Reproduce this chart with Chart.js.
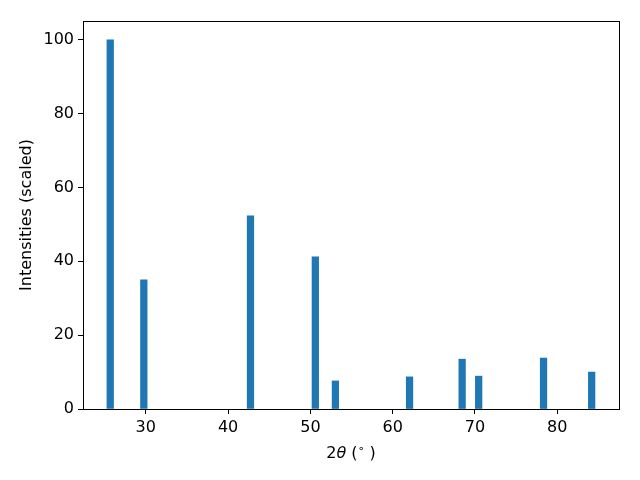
<!DOCTYPE html>
<html>
<head>
<meta charset="utf-8">
<script src="https://cdn.jsdelivr.net/npm/chart.js@4"></script>
<style>
  html, body { margin: 0; padding: 0; background: #fff; }
  #wrap { width: 640px; height: 480px; }
</style>
</head>
<body>
<div id="wrap"><canvas id="xrd" width="640" height="480"></canvas></div>
<script>
// peak positions (2theta, degrees) and scaled intensities
const twoTheta = [25.68, 29.76, 42.72, 50.6, 53.04, 62.05, 68.44, 70.45, 78.33, 84.18];
const intensity = [100, 35, 52.3, 41.2, 7.6, 8.7, 13.5, 8.9, 13.8, 10.0];
const xTicks = [30, 40, 50, 60, 70, 80];
const yTicks = [0, 20, 40, 60, 80, 100];

const tickFont = { family: 'DejaVu Sans', size: 16 };

// draws the top and right spines (matplotlib box)
const boxPlugin = {
    id: 'box',
    afterDraw: function (chart) {
        const a = chart.chartArea;
        const c = chart.ctx;
        c.save();
        c.strokeStyle = '#000';
        c.lineWidth = 1;
        c.strokeRect(Math.round(a.left) + 0.5, Math.round(a.top) + 0.5,
            Math.round(a.right - a.left), Math.round(a.bottom - a.top));
        c.restore();
    }
};

// x label with italic theta and raised degree ring, like mathtext
const xLabelPlugin = {
    id: 'xlabel',
    afterDraw: function (chart) {
        const a = chart.chartArea;
        const c = chart.ctx;
        const parts = [
            { t: '2', f: '16px "DejaVu Sans"', dy: 0 },
            { t: 'θ', f: 'italic 16px "DejaVu Sans"', dy: 0 },
            { t: ' (', f: '16px "DejaVu Sans"', dy: 0 },
            { t: '∘', f: '11px "DejaVu Sans"', dy: -6 },
            { t: ' )', f: '16px "DejaVu Sans"', dy: 0 }
        ];
        c.save();
        c.fillStyle = '#000';
        c.textBaseline = 'alphabetic';
        c.textAlign = 'left';
        let total = 0;
        parts.forEach(p => { c.font = p.f; p.w = c.measureText(p.t).width; total += p.w; });
        let x = (a.left + a.right) / 2 - total / 2;
        const y = 458;
        parts.forEach(p => { c.font = p.f; c.fillText(p.t, x, y + p.dy); x += p.w; });
        c.restore();
    }
};

document.addEventListener('DOMContentLoaded', function () {
    const ctx = document.getElementById('xrd').getContext('2d');

    new Chart(ctx, {
        type: 'bar',
        data: {
            datasets: [{
                label: 'Intensities',
                data: twoTheta.map((t, i) => ({ x: t, y: intensity[i] })),
                backgroundColor: '#1f77b4',
                borderWidth: 0,
                barThickness: 6.6
            }]
        },
        options: {
            responsive: false,
            animation: false,
            layout: { padding: { left: 17, top: 21, right: 21, bottom: 0 } },
            scales: {
                x: {
                    type: 'linear',
                    min: 22.37,
                    max: 87.5,
                    offset: false,
                    afterBuildTicks: function (scale) {
                        scale.ticks = xTicks.map(v => ({ value: v }));
                    },
                    afterFit: function (scale) { scale.height = 71; },
                    grid: { offset: false, drawOnChartArea: false, drawTicks: true, tickLength: 5, color: '#000' },
                    border: { display: true, color: '#000' },
                    ticks: { color: '#000', font: tickFont, padding: 4, maxRotation: 0 },
                    title: { display: false }
                },
                y: {
                    min: 0,
                    max: 105.1,
                    afterBuildTicks: function (scale) {
                        scale.ticks = yTicks.map(v => ({ value: v }));
                    },
                    afterFit: function (scale) { scale.width = 66; },
                    grid: { drawOnChartArea: false, drawTicks: true, tickLength: 5, color: '#000' },
                    border: { display: true, color: '#000' },
                    ticks: { color: '#000', font: tickFont, padding: 4 },
                    title: {
                        display: true,
                        text: 'Intensities (scaled)',
                        color: '#000',
                        font: { family: 'DejaVu Sans', size: 16 },
                        padding: { top: 0, bottom: 4 }
                    }
                }
            },
            plugins: {
                legend: { display: false },
                tooltip: { enabled: false }
            }
        },
        plugins: [boxPlugin, xLabelPlugin]
    });
});
</script>
</body>
</html>
